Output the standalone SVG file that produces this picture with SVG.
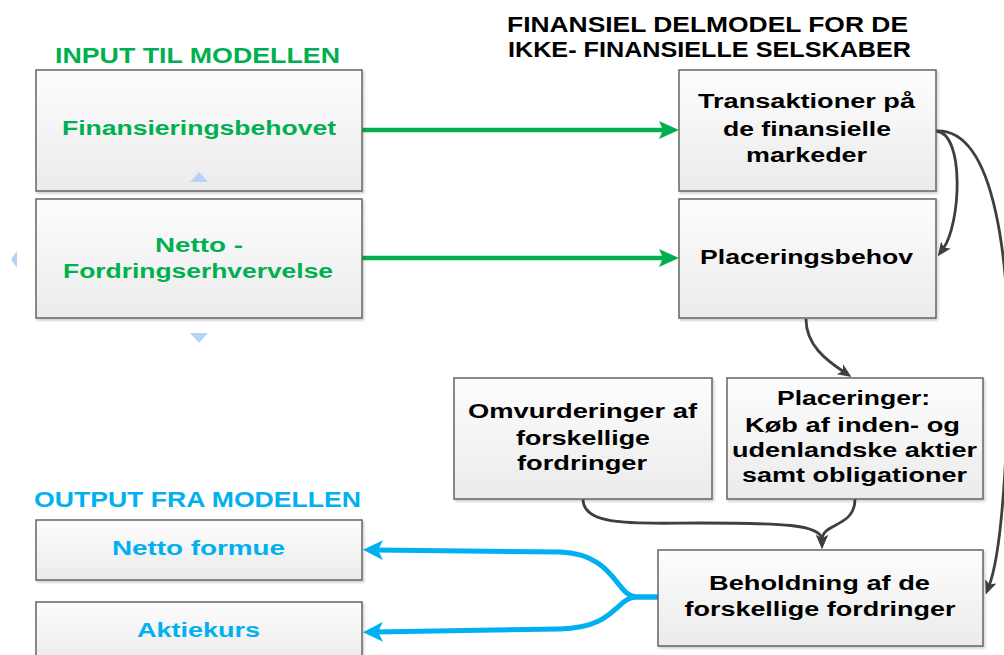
<svg xmlns="http://www.w3.org/2000/svg" width="1004" height="655" viewBox="0 0 1004 655">
  <defs>
    <linearGradient id="boxGrad" x1="0" y1="0" x2="0" y2="1">
      <stop offset="0" stop-color="#fdfdfd"/>
      <stop offset="1" stop-color="#ebebeb"/>
    </linearGradient>
    <filter id="shadow" x="-5%" y="-5%" width="110%" height="115%">
      <feDropShadow dx="1.5" dy="2" stdDeviation="1.2" flood-color="#000" flood-opacity="0.18"/>
    </filter>
    <marker id="arrGreen" markerUnits="userSpaceOnUse" viewBox="0 0 20 18" markerWidth="20" markerHeight="18" refX="8" refY="9" orient="auto">
      <path d="M0,0 L20,9 L0,18 L4,9 z" fill="#00b050"/>
    </marker>
    <marker id="arrBlue" markerUnits="userSpaceOnUse" viewBox="0 0 20 20" markerWidth="20" markerHeight="20" refX="8" refY="10" orient="auto">
      <path d="M0,0 L20,10 L0,20 L5,10 z" fill="#00b0f0"/>
    </marker>
    <marker id="arrGray" markerUnits="userSpaceOnUse" viewBox="0 0 14 12" markerWidth="14" markerHeight="12" refX="5" refY="6" orient="auto">
      <path d="M0,0 L14,6 L0,12 L3.5,6 z" fill="#3f3f3f"/>
    </marker>
  </defs>
  <style>
    .box { fill: url(#boxGrad); stroke: #646464; stroke-width: 1.5; filter: url(#shadow); }
    text { font-family: "Liberation Sans", Arial, sans-serif; font-weight: bold; text-anchor: middle; }
    .t { font-size: 20px; fill: #000; }
    .tg { font-size: 20px; fill: #00b050; }
    .tb { font-size: 20px; fill: #00b0f0; }
    .head { font-size: 22px; }
    .green { fill: none; stroke: #00b050; stroke-width: 4.5; marker-end: url(#arrGreen); }
    .blue { fill: none; stroke: #00b0f0; stroke-width: 5; stroke-linejoin: round; marker-end: url(#arrBlue); }
    .gray { fill: none; stroke: #3f3f3f; stroke-width: 2.8; marker-end: url(#arrGray); }
    .deco { fill: #b4d4f2; }
  </style>

  <!-- headings -->
  <text class="head" x="197.5" y="63" fill="#00b050" textLength="285" lengthAdjust="spacingAndGlyphs">INPUT TIL MODELLEN</text>
  <text class="head" x="707.5" y="32" fill="#000" textLength="401" lengthAdjust="spacingAndGlyphs">FINANSIEL DELMODEL FOR DE</text>
  <text class="head" x="709.5" y="57" fill="#000" textLength="403" lengthAdjust="spacingAndGlyphs">IKKE- FINANSIELLE SELSKABER</text>
  <text class="head" x="197.5" y="507" fill="#00b0f0" textLength="327" lengthAdjust="spacingAndGlyphs">OUTPUT FRA MODELLEN</text>

  <!-- connectors -->
  <g id="connectors">
    <path class="green" d="M362,130 L667,130"/>
    <path class="green" d="M362,258 L667,258"/>
    <path class="gray" d="M936,131 C965,133 961,224 943,249"/>
    <path class="gray" d="M936,131 C995,128 1012,260 1008,400 C1005,500 999,560 989,586"/>
    <path class="gray" d="M806,319 C806,345 826,360 844,372"/>
    <path class="gray" d="M583,499 C583,528 640,523 700,523 C780,523 822,524 822,540"/>
    <path class="gray" d="M855,499 C855,528 822,522 822,540"/>
    <path class="blue" d="M658,597 L636,597 C616,596 615,554 560,552 L375,550"/>
    <path class="blue" d="M658,597 L636,597 C616,598 615,628 560,629 L375,632"/>
  </g>

  <g id="n-finansieringsbehovet">
    <rect class="box" x="36" y="70" width="326" height="121"/>
    <text class="tg" x="199" y="135" textLength="274" lengthAdjust="spacingAndGlyphs">Finansieringsbehovet</text>
  </g>
  <g id="n-netto-fordring">
    <rect class="box" x="36" y="199" width="326" height="119"/>
    <text class="tg" x="199" y="252" textLength="88" lengthAdjust="spacingAndGlyphs">Netto -</text>
    <text class="tg" x="198" y="278" textLength="270" lengthAdjust="spacingAndGlyphs">Fordringserhvervelse</text>
  </g>
  <g id="n-transaktioner">
    <rect class="box" x="679" y="70" width="257" height="121"/>
    <text class="t" x="806.5" y="108" textLength="217" lengthAdjust="spacingAndGlyphs">Transaktioner på</text>
    <text class="t" x="807" y="136" textLength="168" lengthAdjust="spacingAndGlyphs">de finansielle</text>
    <text class="t" x="806.5" y="162" textLength="121" lengthAdjust="spacingAndGlyphs">markeder</text>
  </g>
  <g id="n-placeringsbehov">
    <rect class="box" x="679" y="199" width="257" height="119"/>
    <text class="t" x="806.5" y="264" textLength="213" lengthAdjust="spacingAndGlyphs">Placeringsbehov</text>
  </g>
  <g id="n-omvurderinger">
    <rect class="box" x="454" y="378" width="258" height="121"/>
    <text class="t" x="582.5" y="418" textLength="229" lengthAdjust="spacingAndGlyphs">Omvurderinger af</text>
    <text class="t" x="583" y="445" textLength="134" lengthAdjust="spacingAndGlyphs">forskellige</text>
    <text class="t" x="582" y="470" textLength="130" lengthAdjust="spacingAndGlyphs">fordringer</text>
  </g>
  <g id="n-placeringer">
    <rect class="box" x="727" y="378" width="256" height="121"/>
    <text class="t" x="853.5" y="405" textLength="153" lengthAdjust="spacingAndGlyphs">Placeringer:</text>
    <text class="t" x="852.5" y="432" textLength="215" lengthAdjust="spacingAndGlyphs">Køb af inden- og</text>
    <text class="t" x="854.5" y="457" textLength="245" lengthAdjust="spacingAndGlyphs">udenlandske aktier</text>
    <text class="t" x="854.5" y="482" textLength="225" lengthAdjust="spacingAndGlyphs">samt obligationer</text>
  </g>
  <g id="n-beholdning">
    <rect class="box" x="658" y="550" width="325" height="96"/>
    <text class="t" x="819.5" y="590" textLength="221" lengthAdjust="spacingAndGlyphs">Beholdning af de</text>
    <text class="t" x="820" y="616" textLength="271" lengthAdjust="spacingAndGlyphs">forskellige fordringer</text>
  </g>
  <g id="n-netto-formue">
    <rect class="box" x="36" y="520" width="326" height="60"/>
    <text class="tb" x="198.5" y="555" textLength="173" lengthAdjust="spacingAndGlyphs">Netto formue</text>
  </g>
  <g id="n-aktiekurs">
    <rect class="box" x="36" y="602" width="326" height="60"/>
    <text class="tb" x="198.5" y="637" textLength="123" lengthAdjust="spacingAndGlyphs">Aktiekurs</text>
  </g>

  <!-- small decorative triangles -->
  <polygon class="deco" points="199,172 208,182 190,182"/>
  <polygon class="deco" points="190,333 208,333 199,343"/>
  <polygon class="deco" points="11,259.5 17,251 17,268"/>
</svg>
